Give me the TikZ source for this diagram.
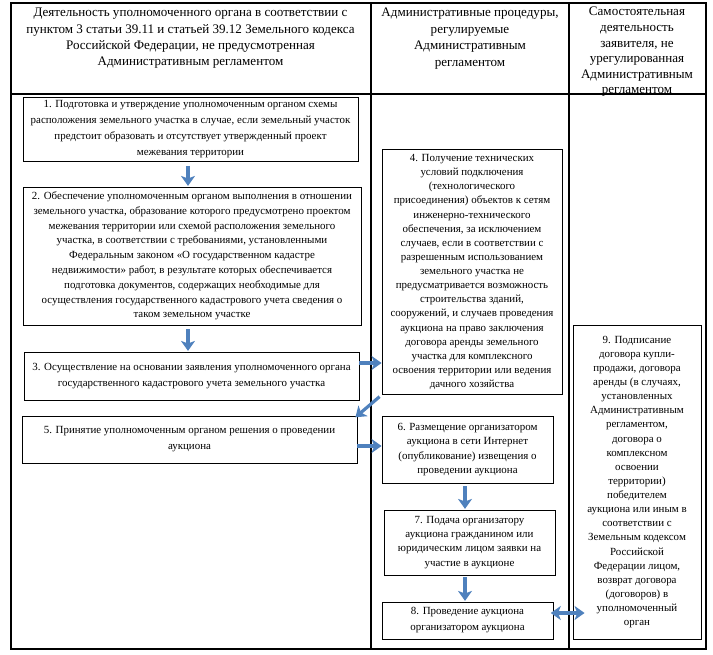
\documentclass[tikz,border=0pt]{standalone}
\usepackage{fontspec}
\setmainfont{Liberation Serif}
\usetikzlibrary{arrows.meta,calc}
\definecolor{arrblue}{RGB}{79,129,189}
\begin{document}
\begin{tikzpicture}[x=0.75pt,y=-0.75pt,
  tline/.style={line width=0.9pt,black},
  hdr/.style={align=center,font=\fontsize{9.8}{12.3}\selectfont,inner sep=0pt},
  box/.style={draw=black,line width=0.65pt,align=center,inner sep=0pt,
    font=\fontsize{8.2}{12}\selectfont},
  mid/.style={font=\fontsize{8.2}{11.1}\selectfont},
  tight/.style={font=\fontsize{8.2}{10.6}\selectfont},
  tipb/.tip={Stealth[length=7.5pt,width=10.5pt,inset=2pt]},
  arr/.style={draw=arrblue,line width=2.4pt,-tipb},
  darr/.style={draw=arrblue,line width=2.4pt,tipb-tipb}
]
\useasboundingbox (0,0) rectangle (713,655);
% table
\draw[tline] (11,3) rectangle (706,649);
\draw[tline] (371,3) -- (371,649);
\draw[tline] (569,3) -- (569,649);
\draw[tline] (11,94) -- (706,94);
% headers
\node[hdr] (h1) at (190.5,38.5) {Деятельность уполномоченного органа в соответствии с\\пунктом 3 статьи 39.11 и статьей 39.12 Земельного кодекса\\Российской Федерации, не предусмотренная\\Административным регламентом};
\node[hdr] (h2) at (470,38.5) {Административные процедуры,\\регулируемые\\Административным\\регламентом};
\node[hdr,font=\fontsize{9.8}{11.7}\selectfont] (h3) at (637,52) {Самостоятельная\\деятельность\\заявителя, не\\урегулированная\\Административным\\регламентом};
% boxes
\node[box,minimum width=251.25pt,minimum height=48pt] (b1) at (190.5,129.5)
 {1. Подготовка и утверждение уполномоченным органом схемы\\расположения земельного участка в случае, если земельный участок\\предстоит образовать и отсутствует утвержденный проект\\межевания территории};
\node[box,mid,minimum width=253.5pt,minimum height=103.5pt] (b2) at (192,256)
 {2. Обеспечение уполномоченным органом выполнения в отношении\\земельного участка, образование которого предусмотрено проектом\\межевания территории или схемой расположения земельного\\участка, в соответствии с требованиями, установленными\\Федеральным законом «О государственном кадастре\\недвижимости» работ, в результате которых обеспечивается\\подготовка документов, содержащих необходимые для\\осуществления государственного кадастрового учета сведения о\\таком земельном участке};
\node[box,minimum width=251.25pt,minimum height=36pt] (b3) at (191.5,376)
 {3. Осуществление на основании заявления уполномоченного органа\\государственного кадастрового учета земельного участка};
\node[box,minimum width=251.25pt,minimum height=35.25pt] (b5) at (189.5,439.5)
 {5. Принятие уполномоченным органом решения о проведении\\аукциона};
\node[box,tight,minimum width=135pt,minimum height=183.75pt] (b4) at (472,272)
 {4. Получение технических\\условий подключения\\(технологического\\присоединения) объектов к сетям\\инженерно-технического\\обеспечения, за исключением\\случаев, если в соответствии с\\разрешенным использованием\\земельного участка не\\предусматривается возможность\\строительства зданий,\\сооружений, и случаев проведения\\аукциона на право заключения\\договора аренды земельного\\участка для комплексного\\освоения территории или ведения\\дачного хозяйства};
\node[box,tight,minimum width=128.25pt,minimum height=50.25pt] (b6) at (467.5,449.5)
 {6. Размещение организатором\\аукциона в сети Интернет\\(опубликование) извещения о\\проведении аукциона};
\node[box,tight,minimum width=128.25pt,minimum height=48.75pt] (b7) at (469.5,542.5)
 {7. Подача организатору\\аукциона гражданином или\\юридическим лицом заявки на\\участие в аукционе};
\node[box,minimum width=128.25pt,minimum height=27.75pt] (b8) at (467.5,620.5)
 {8. Проведение аукциона\\организатором аукциона};
\node[box,tight,minimum width=96pt,minimum height=235.5pt] (b9) at (637,482)
 {9. Подписание\\договора купли-\\продажи, договора\\аренды (в случаях,\\установленных\\Административным\\регламентом,\\договора о\\комплексном\\освоении\\территории)\\победителем\\аукциона или иным в\\соответствии с\\Земельным кодексом\\Российской\\Федерации лицом,\\возврат договора\\(договоров) в\\уполномоченный\\орган};
% helper coordinates
\coordinate (xa) at (188,0);
\coordinate (xb) at (465,0);
\coordinate (y34) at (0,363);
\coordinate (y56) at (0,446);
\coordinate (y89) at (0,613);
% connectors
\draw[arr,shorten <=3pt,shorten >=0.5pt] (b1.south -| xa) -- (b2.north -| xa);
\draw[arr,shorten <=3pt,shorten >=0.5pt] (b2.south -| xa) -- (b3.north -| xa);
\draw[arr,shorten <=0pt,shorten >=0pt] (b3.east |- y34) -- (b4.west |- y34);
\draw[arr,shorten <=2pt,shorten >=-2pt] (b4.south west) -- (b5.north east);
\draw[arr,shorten <=0pt,shorten >=0pt] (b5.east |- y56) -- (b6.west |- y56);
\draw[arr,shorten <=2pt,shorten >=0.5pt] (b6.south -| xb) -- (b7.north -| xb);
\draw[arr,shorten <=1.5pt,shorten >=0.5pt] (b7.south -| xb) -- (b8.north -| xb);
\draw[darr,shorten <=-2pt,shorten >=-9pt] (b8.east |- y89) -- (b9.west |- y89);
\end{tikzpicture}
\end{document}
